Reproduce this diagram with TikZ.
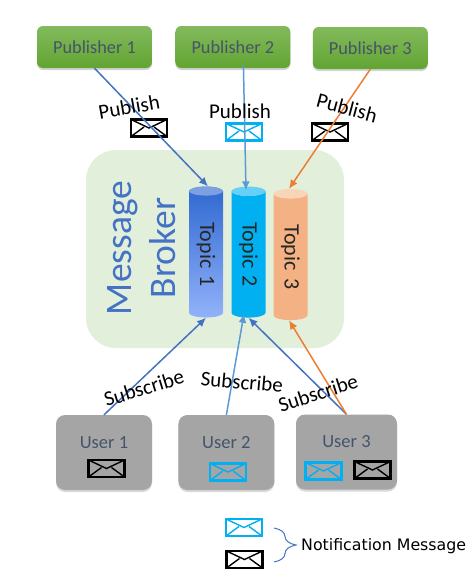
\documentclass[tikz,border=0pt]{standalone}
\usepackage{fontspec}
\setmainfont{Carlito}
\newfontfamily\legendfont{DejaVu Sans}
\usepackage{xcolor}
\usetikzlibrary{arrows.meta,positioning,shapes.geometric,shadows,decorations.pathreplacing}
\definecolor{mbBlue}{RGB}{68,114,196}
\definecolor{mbSky}{RGB}{91,155,213}
\definecolor{mbOrange}{RGB}{237,125,49}
\definecolor{mbCyan}{RGB}{0,176,240}
\definecolor{mbCyanEnd}{RGB}{102,208,246}
\definecolor{mbInk}{RGB}{68,84,106}
\definecolor{mbGreen}{RGB}{226,239,218}
\definecolor{mbGray}{RGB}{165,165,165}
\definecolor{mbPubTop}{RGB}{131,186,92}
\definecolor{mbPubLow}{RGB}{98,165,50}
\definecolor{mbTopicTop}{RGB}{47,104,208}
\definecolor{mbTopicLow}{RGB}{146,178,250}
\definecolor{mbTopicEnd}{RGB}{125,160,225}
\definecolor{mbPeach}{RGB}{244,177,131}
\definecolor{mbPeachEnd}{RGB}{248,212,184}

\begin{document}
\begin{tikzpicture}[
  x=1pt, y=-1pt,
  pubbox/.style={rounded corners=6pt, top color=mbPubTop, bottom color=mbPubLow, text=mbInk, font=\fontsize{18.3}{20}\selectfont, minimum width=115pt, minimum height=42pt, drop shadow={shadow xshift=0pt, shadow yshift=-2pt, opacity=.35}},
  userbox/.style={rounded corners=9pt, fill=mbGray, text=mbInk, font=\fontsize{18.5}{20}\selectfont, minimum width=96pt, minimum height=75pt, text height=11pt, text depth=20pt, inner ysep=0pt, drop shadow={shadow xshift=0pt, shadow yshift=-2pt, opacity=.3}},
  topicbase/.style={cylinder, rotate=-90, shape border rotate=180, cylinder uses custom fill, aspect=.5, minimum height=131pt, minimum width=34pt, text width=116pt, align=center, inner sep=0pt, text=black!85, font=\fontsize{22}{24}\selectfont},
  mail/.style={draw=#1, line width=2.2pt, minimum width=36pt, minimum height=17pt, inner sep=0pt, path picture={
    \draw[#1, line width=1.4pt] (path picture bounding box.north west) -- (path picture bounding box.center) -- (path picture bounding box.north east);
    \draw[#1, line width=1.4pt] (path picture bounding box.south west) -- ([xshift=-5pt,yshift=1pt]path picture bounding box.center);
    \draw[#1, line width=1.4pt] (path picture bounding box.south east) -- ([xshift=5pt,yshift=1pt]path picture bounding box.center);}},
  tag/.style={font=\fontsize{21}{24}\selectfont, inner sep=0pt},
  arr/.style={-{Latex[length=9pt,width=8pt]}, line width=1.5pt, draw=#1},
  notebrace/.style={draw=mbBlue, line width=1pt, decorate, decoration={brace, amplitude=22pt, aspect=.5}}
]
\useasboundingbox (0,0) rectangle (476,582);
% broker
\node[fill=mbGreen, rounded corners=30pt, minimum width=258pt, minimum height=198pt] (broker) at (215,249) {};
\node[rotate=90, align=center, text=mbBlue, font=\fontsize{37.5}{44}\selectfont] (brokerName) at (142,248) {Message\\Broker};
% publishers
\node[pubbox] (pub1) at (94.5,47) {Publisher 1};
\node[pubbox, right=23pt of pub1] (pub2) {Publisher 2};
\node[pubbox, right=22pt of pub2, yshift=-1pt] (pub3) {Publisher 3};
% topics
\node[topicbase, top color=mbTopicTop, bottom color=mbTopicLow, path picture={\fill[mbTopicEnd] ([xshift=4.5pt]path picture bounding box.north) ellipse (4.5pt and 17pt);}] (topic1) at (206,254.5) {Topic 1};
\node[topicbase, cylinder body fill=mbCyan, cylinder end fill=mbCyanEnd] (topic2) at (248.5,254.5) {Topic 2};
\node[topicbase, cylinder body fill=mbPeach, cylinder end fill=mbPeachEnd] (topic3) at (290.5,257) {Topic 3};
% users
\node[userbox] (user1) at (104,452.5) {User 1};
\node[userbox, right=26pt of user1] (user2) {User 2};
\node[userbox, minimum width=101pt] (user3) at (346.5,452) {User 3};
% envelopes
\node[mail=black] (mailPub1) at (149,128) {};
\node[mail=mbCyan] (mailPub2) at (244,132) {};
\node[mail=black] (mailPub3) at (330,132) {};
\node[mail=black] (mailUser1) at (106.5,468.5) {};
\node[mail=mbCyan] (mailUser2) at (228,472) {};
\node[mail=mbCyan] (mailUser3a) at (323.5,471) {};
\node[mail=black] (mailUser3b) at (372.5,470) {};
\node[mail=mbCyan] (mailKeyA) at (244,527.5) {};
\node[mail=black] (mailKeyB) at (244.5,559.5) {};
% publish
\draw[arr=mbBlue] (pub1.south) -- ([xshift=2pt]topic1.west);
\draw[arr=mbSky] ([xshift=10.5pt,yshift=3pt]pub2.south) -- ([xshift=-2.5pt,yshift=-4pt]topic2.west);
\draw[arr=mbOrange] (pub3.south) -- ([xshift=-1.5pt]topic3.west);
% subscribe
\draw[arr=mbBlue] (user1.north) -- (topic1.east);
\draw[arr=mbSky] (user2.north) -- ([xshift=-4.5pt,yshift=4pt]topic2.east);
\draw[arr=mbBlue] (user3.north) -- (topic2.east);
\draw[arr=mbOrange] (user3.north) -- ([xshift=-1.5pt]topic3.east);
% labels
\node[tag, rotate=10] (pubTag1) at (129,107) {Publish};
\node[tag] (pubTag2) at (240,111) {Publish};
\node[tag, rotate=-15] (pubTag3) at (347,108) {Publish};
\node[tag, rotate=17] (subTag1) at (144,388) {Subscribe};
\node[tag, rotate=-5] (subTag2) at (242,382) {Subscribe};
\node[tag, rotate=18] (subTag3) at (318,393) {Subscribe};
% legend
\coordinate (braceTop) at (274,528);
\coordinate (braceLow) at (274,562);
\draw[notebrace] (braceTop) -- (braceLow);
\node[anchor=west, inner sep=0pt, font=\legendfont\fontsize{15.8}{18}\selectfont] (noteText) at (301,546.5) {Notification Message};
\end{tikzpicture}
\end{document}
